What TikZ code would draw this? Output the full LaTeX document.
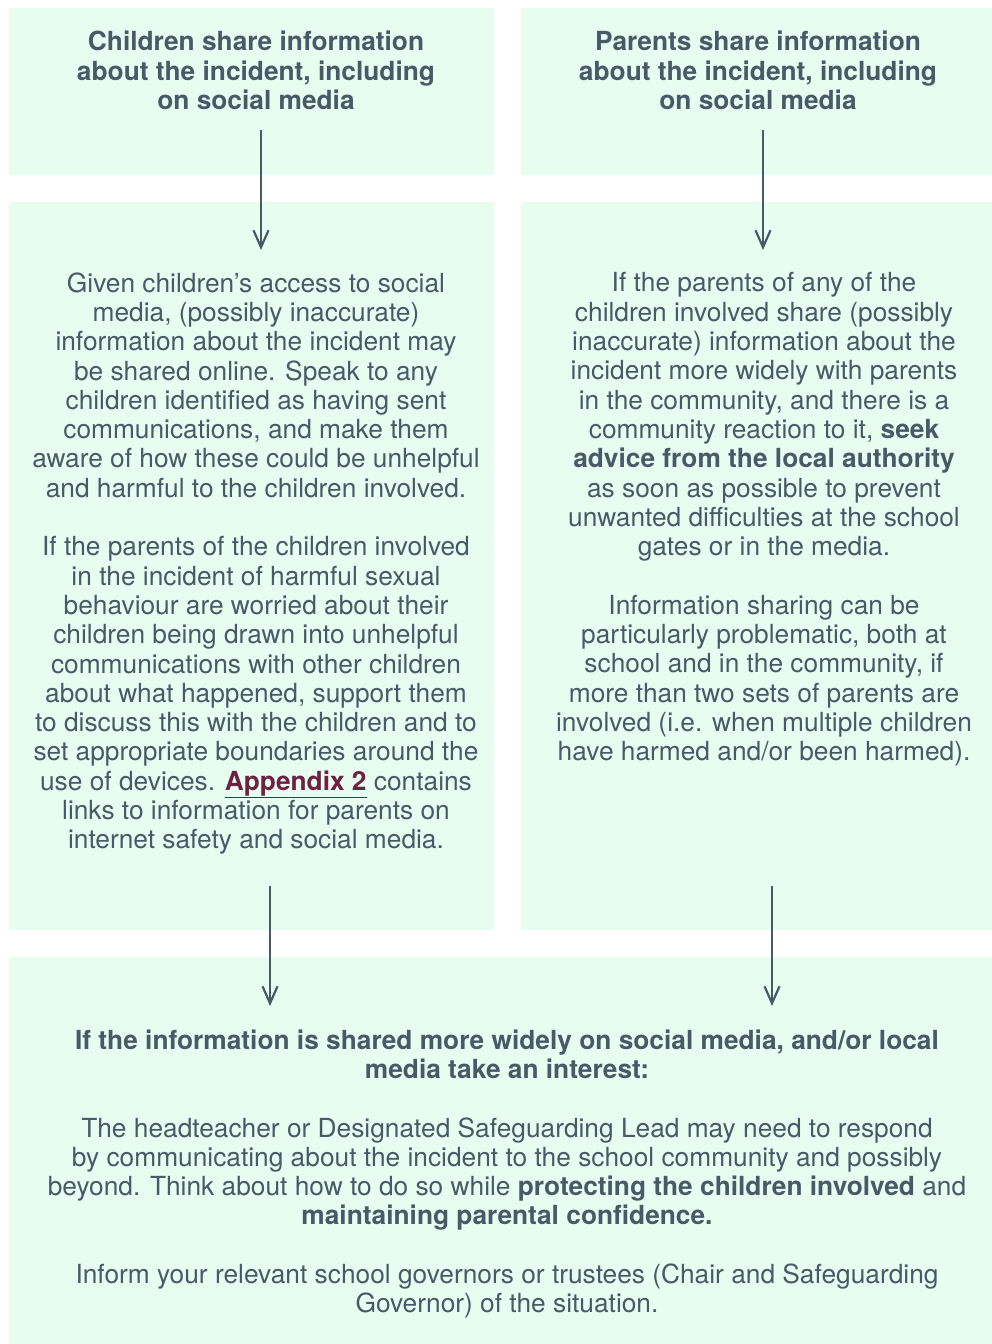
\documentclass[tikz,border=0pt]{standalone}
\usepackage{fontspec}
\setmainfont{TeX Gyre Heros}
\usetikzlibrary{arrows.meta}
\definecolor{boxfill}{HTML}{E6FDF0}
\definecolor{txt}{HTML}{465A68}
\definecolor{linkc}{HTML}{6E2141}
\tikzset{
  panel/.style={fill=boxfill, draw=none, inner sep=0pt, anchor=north west},
  para/.style={text=txt, align=center, inner sep=0pt, font=\fontsize{26.3}{29.3}\selectfont},
  flow/.style={draw=txt, line width=2.2pt, -{Straight Barb[length=17pt,width=15pt,line width=2.2pt]}}
}
\newcommand{\applink}{\textcolor{linkc}{\textbf{\underline{Appendix 2}}}}
\begin{document}
\begin{tikzpicture}[x=1pt,y=-1pt]
\useasboundingbox (0,0) rectangle (992,1344);
% panels
\node[panel, minimum width=485pt, minimum height=167pt] (p1) at (9,8) {};
\node[panel, minimum width=471pt, minimum height=167pt] (p2) at (521,8) {};
\node[panel, minimum width=485pt, minimum height=728pt] (p3) at (9,202) {};
\node[panel, minimum width=471pt, minimum height=728pt] (p4) at (521,202) {};
\node[panel, minimum width=983pt, minimum height=387pt] (p5) at (9,957) {};
% texts
\node[para] (t1) at (256,70.5) {\textbf{Children share information}\\\textbf{about the incident, including}\\\textbf{on social media}};
\node[para] (t2) at (758,70.5) {\textbf{Parents share information}\\\textbf{about the incident, including}\\\textbf{on social media}};
\node[para] (t3) at (256,563.5) {Given children’s access to social\\
media, (possibly inaccurate)\\
information about the incident may\\
be shared online. Speak to any\\
children identified as having sent\\
communications, and make them\\
aware of how these could be unhelpful\\
and harmful to the children involved.\\[29.3pt]
If the parents of the children involved\\
in the incident of harmful sexual\\
behaviour are worried about their\\
children being drawn into unhelpful\\
communications with other children\\
about what happened, support them\\
to discuss this with the children and to\\
set appropriate boundaries around the\\
use of devices. \applink{} contains\\
links to information for parents on\\
internet safety and social media.};
\node[para] (t4) at (764,519.5) {If the parents of any of the\\
children involved share (possibly\\
inaccurate) information about the\\
incident more widely with parents\\
in the community, and there is a\\
community reaction to it, \textbf{seek}\\
\textbf{advice from the local authority}\\
as soon as possible to prevent\\
unwanted difficulties at the school\\
gates or in the media.\\[29.3pt]
Information sharing can be\\
particularly problematic, both at\\
school and in the community, if\\
more than two sets of parents are\\
involved (i.e. when multiple children\\
have harmed and/or been harmed).};
\node[para] (t5) at (507,1174) {\textbf{If the information is shared more widely on social media, and/or local}\\
\textbf{media take an interest:}\\[29.3pt]
The headteacher or Designated Safeguarding Lead may need to respond\\
by communicating about the incident to the school community and possibly\\
beyond. Think about how to do so while \textbf{protecting the children involved} and\\
\textbf{maintaining parental confidence.}\\[29.3pt]
Inform your relevant school governors or trustees (Chair and Safeguarding\\
Governor) of the situation.};
% arrows
\coordinate (a1s) at (261,130); \coordinate (a1e) at (261,250);
\coordinate (a2s) at (763,130); \coordinate (a2e) at (763,250);
\coordinate (a3s) at (270,886); \coordinate (a3e) at (270,1006);
\coordinate (a4s) at (772,886); \coordinate (a4e) at (772,1006);
\draw[flow] (a1s) -- (a1e);
\draw[flow] (a2s) -- (a2e);
\draw[flow] (a3s) -- (a3e);
\draw[flow] (a4s) -- (a4e);
\end{tikzpicture}
\end{document}
